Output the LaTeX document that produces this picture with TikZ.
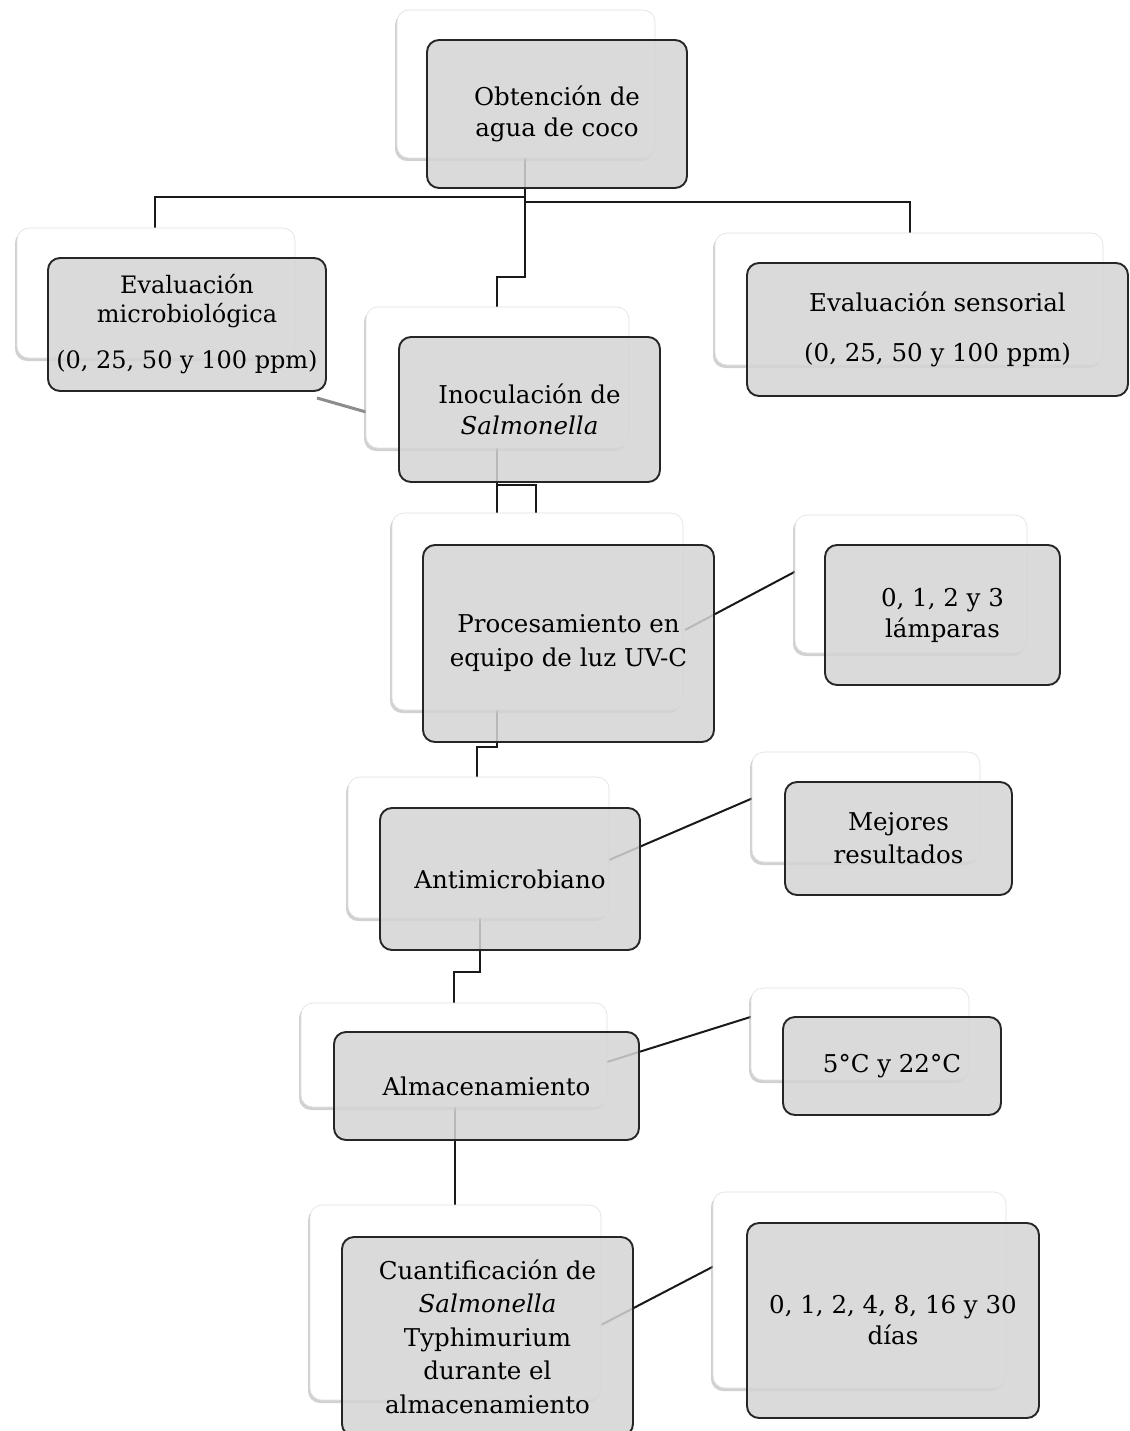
\documentclass[tikz,border=0pt]{standalone}
\usepackage{fontspec}
\setmainfont{DejaVu Serif}
\usetikzlibrary{shadows}
\begin{document}
\begin{tikzpicture}[x=1pt,y=-1pt,
  backbox/.style={draw=black!12, line width=0.6pt, fill=white, rounded corners=12pt,
    drop shadow={shadow xshift=-2pt, shadow yshift=-3pt, opacity=0.45, fill=black!40}},
  frontbox/.style={draw=black!85, line width=1.9pt, fill=black!17, fill opacity=0.85,
    text opacity=1, rounded corners=12pt, align=center, inner sep=0pt,
    font=\fontsize{24.5}{31}\selectfont},
  link/.style={draw=black!90, line width=2pt},
  softlink/.style={draw=black!45, line width=3pt},
]
\useasboundingbox (0,0) rectangle (1129,1431);
\fill[white] (0,0) rectangle (1129,1431);

% connector points
\coordinate (a0) at (525,120);
\coordinate (a1) at (525,197);
\coordinate (a2) at (525,202);
\coordinate (l1) at (155,250);
\coordinate (r1) at (910,250);
\coordinate (m1) at (497,330);
\coordinate (i0) at (497,420);
\coordinate (i1) at (497,540);
\coordinate (i2) at (536,540);
\coordinate (p0) at (497,690);
\coordinate (p1) at (477,800);
\coordinate (p2) at (685,630);
\coordinate (p3) at (800,569);
\coordinate (n0) at (480,900);
\coordinate (n1) at (454,1030);
\coordinate (n2) at (609,860);
\coordinate (n3) at (760,795);
\coordinate (s0) at (455,1090);
\coordinate (s1) at (455,1230);
\coordinate (s2) at (607,1062);
\coordinate (s3) at (760,1014);
\coordinate (q0) at (601,1325);
\coordinate (q1) at (720,1263);
\coordinate (g0) at (317,398);
\coordinate (g1) at (366,412);

% connectors
\draw[link] (a0) -- (525,277) -- (497,277) -- (m1);
\draw[link] (a1) -- (155,197) -- (l1);
\draw[link] (a2) -- (910,202) -- (r1);
\draw[link] (i0) -- (i1);
\draw[link] (497,485) -- (536,485) -- (i2);
\draw[link] (p0) -- (497,747) -- (477,747) -- (p1);
\draw[link] (p2) -- (p3);
\draw[link] (n0) -- (480,972) -- (454,972) -- (n1);
\draw[link] (n2) -- (n3);
\draw[link] (s0) -- (s1);
\draw[link] (s2) -- (s3);
\draw[link] (q0) -- (q1);
\draw[softlink] (g0) -- (g1);

% back boxes
\node[backbox, minimum width=258, minimum height=148] (b1) at (526,84) {};
\node[backbox, minimum width=278, minimum height=130] (b2) at (156,293) {};
\node[backbox, minimum width=388, minimum height=132] (b3) at (909,299) {};
\node[backbox, minimum width=263, minimum height=141] (b4) at (497.5,377.5) {};
\node[backbox, minimum width=291, minimum height=197] (b5) at (537.5,611.5) {};
\node[backbox, minimum width=232, minimum height=138] (b6) at (911,584) {};
\node[backbox, minimum width=261, minimum height=141] (b7) at (478.5,847.5) {};
\node[backbox, minimum width=228, minimum height=110] (b8) at (866,807) {};
\node[backbox, minimum width=306, minimum height=104] (b9) at (454,1055) {};
\node[backbox, minimum width=218, minimum height=92] (b10) at (860,1034) {};
\node[backbox, minimum width=291, minimum height=195] (b11) at (455.5,1302.5) {};
\node[backbox, minimum width=293, minimum height=196] (b12) at (859.5,1290) {};

% front boxes
\node[frontbox, minimum width=260, minimum height=148] (f1) at (557,114) {Obtención de\\agua de coco};
\node[frontbox, minimum width=278, minimum height=133, font=\fontsize{24}{29}\selectfont] (f2) at (187,324.5) {Evaluación\\microbiológica\\[17pt](0, 25, 50 y 100 ppm)};
\node[frontbox, minimum width=381, minimum height=133] (f3) at (937.5,329.5) {Evaluación sensorial\\[19pt](0, 25, 50 y 100 ppm)};
\node[frontbox, minimum width=261, minimum height=145] (f4) at (529.5,409.5) {Inoculación de\\\textit{Salmonella}};
\node[frontbox, minimum width=291, minimum height=197, font=\fontsize{24.5}{34}\selectfont] (f5) at (568.5,643.5) {Procesamiento en\\equipo de luz UV-C};
\node[frontbox, minimum width=235, minimum height=140] (f6) at (942.5,615) {0, 1, 2 y 3\\lámparas};
\node[frontbox, minimum width=260, minimum height=142] (f7) at (510,879) {Antimicrobiano};
\node[frontbox, minimum width=227, minimum height=113, font=\fontsize{24.5}{33}\selectfont] (f8) at (898.5,838.5) {Mejores\\resultados};
\node[frontbox, minimum width=305, minimum height=108] (f9) at (486.5,1086) {Almacenamiento};
\node[frontbox, minimum width=218, minimum height=98] (f10) at (892,1066) {5°C y 22°C};
\node[frontbox, minimum width=291, minimum height=199, font=\fontsize{24.5}{33.5}\selectfont] (f11) at (487.5,1336.5) {Cuantificación de\\\textit{Salmonella}\\Typhimurium\\durante el\\almacenamiento};
\node[frontbox, minimum width=292, minimum height=195] (f12) at (893,1320.5) {0, 1, 2, 4, 8, 16 y 30\\días};
\end{tikzpicture}
\end{document}
